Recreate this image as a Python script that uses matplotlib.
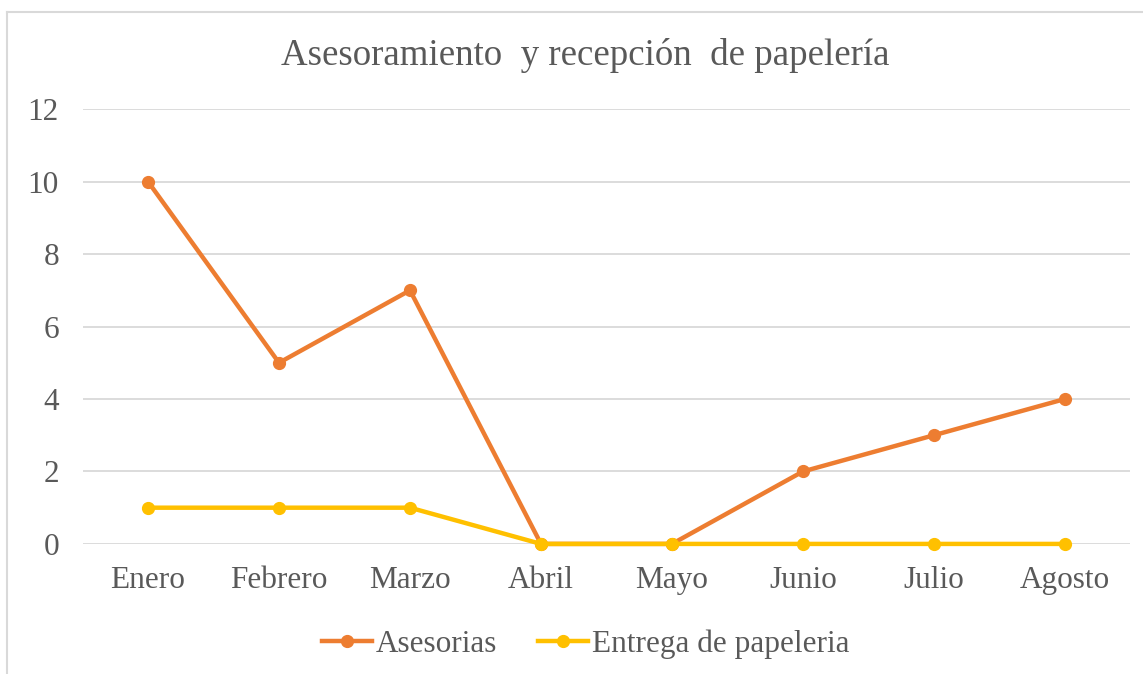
import numpy as np
import matplotlib.pyplot as plt
from matplotlib.lines import Line2D

#datos
meses = ['Enero', 'Febrero', 'Marzo', 'Abril', 'Mayo', 'Junio', 'Julio', 'Agosto']
asesorias = [10, 5, 7, 0, 0, 2, 3, 4]
entrega = [1, 1, 1, 0, 0, 0, 0, 0]

plt.rcParams['font.family'] = ['Liberation Serif', 'DejaVu Serif']
gris = '#595959'

fig = plt.figure(figsize=(11.43, 6.74), dpi=100)
ax = fig.add_axes([0.0722, 0.193, 0.9168, 0.645])

x = np.arange(len(meses))
ax.plot(x, asesorias, '-o', color='#ED7D31', lw=3.2, ms=8.5, label='Asesorias')
ax.plot(x, entrega, '-o', color='#FFC000', lw=3.2, ms=8.5, label='Entrega de papeleria')

ax.set_xlim(-0.5, len(meses) - 0.5)
ax.set_ylim(0, 12)
ax.set_yticks(range(0, 13, 2))
ax.set_xticks(x)
ax.set_xticklabels(meses)
ax.tick_params(length=0, labelsize=22.5, colors=gris)
ax.tick_params(axis='y', pad=17)
ax.tick_params(axis='x', pad=16)
ax.grid(axis='y', color='#D9D9D9', lw=1.3)
ax.set_axisbelow(True)
for s in ax.spines.values():
    s.set_visible(False)
for l in ax.lines:
    l.set_clip_on(False)

fig.text(0.512, 0.917, 'Asesoramiento  y recepción  de papelería', ha='center', va='center',
         fontsize=26.6, color=gris)

ax.legend(loc='center', bbox_to_anchor=(0.48, -0.23), ncol=2, frameon=False,
          fontsize=22.5, labelcolor=gris, handlelength=1.6, handletextpad=0.12, columnspacing=1.3)

# borde del grafico
fig.add_artist(Line2D([7/1143, 7/1143], [0, 1 - 12/674], color='#D9D9D9', lw=1.5))
fig.add_artist(Line2D([7/1143, 1], [1 - 12/674, 1 - 12/674], color='#D9D9D9', lw=1.5))

plt.savefig('out.png', dpi=100)
